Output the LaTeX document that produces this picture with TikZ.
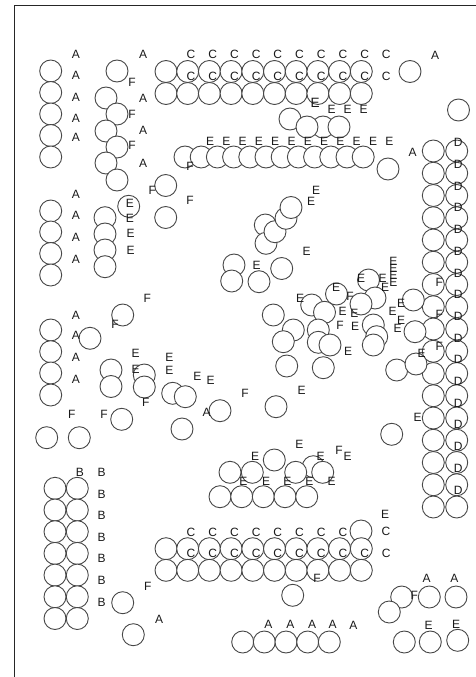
\documentclass[tikz,border=0pt]{standalone}
\usepackage{fontspec}
\setmainfont{Liberation Sans}
\begin{document}
\begin{tikzpicture}[x=1pt,y=-1pt,
  circ/.style={draw=black!72,line width=0.9pt,fill=white},
  lbl/.style={inner sep=0pt,font=\fontsize{12}{12}\selectfont,text=black!90}]
\useasboundingbox (0,0) rectangle (476,677);
\begin{scope}
\clip (0,0) rectangle (476,677);
\draw[line width=1pt,black!85] (14,680) -- (14,6) -- (480,6);
% ---------- circles ----------
\foreach \y in {71,92.5,114,135.5,157} \draw[circ] (50.7,\y) circle[radius=11];
\foreach \x/\y in {117/71,106/98,117/114,106/131,117/147,106/163,117/180} \draw[circ] (\x,\y) circle[radius=11];
\foreach \k in {0,...,9} {\draw[circ] (166+21.7*\k,71.5) circle[radius=11];}
\foreach \k in {0,...,9} {\draw[circ] (166+21.7*\k,93.5) circle[radius=11];}
\draw[circ] (410,71.5) circle[radius=11];
\draw[circ] (458.5,110) circle[radius=11];
\foreach \x/\y in {290/119,323/127,307/127,339/127} \draw[circ] (\x,\y) circle[radius=11];
\foreach \k in {0,...,11} {\draw[circ] (185+16.2*\k,157) circle[radius=11];}
\draw[circ] (388,169) circle[radius=11];
\foreach \k in {0,...,16} {\draw[circ] (433.3,151+22.25*\k) circle[radius=11];
  \draw[circ] (456.7,151+22.25*\k) circle[radius=11];}
\foreach \x/\y in {165.7/185.5,165.7/217.5,128.7/206.3} \draw[circ] (\x,\y) circle[radius=11];
\foreach \y in {211,232,253.5,275} \draw[circ] (50.7,\y) circle[radius=11];
\foreach \y in {217.7,234,250,266.7} \draw[circ] (105,\y) circle[radius=11];
\foreach \x/\y in {265.3/225,266/243.3,275/231.7,286/218.3,291/207.5} \draw[circ] (\x,\y) circle[radius=11];
\foreach \x/\y in {234/265,231.7/281,259/281.7,281.7/268.5} \draw[circ] (\x,\y) circle[radius=11];
% central cluster
\foreach \x/\y in {368.5/280,336.5/294,375/298,361/304,311.7/305,324.5/312.3,273.3/315,
  373.3/325,293.3/330,318.3/330,376.7/336.7,283.3/341.7,318.3/342.3,330/345,373.3/345,
  286.7/366,323.3/367.7,413.3/300,415/331.7,396.7/370,416/364}
  \draw[circ] (\x,\y) circle[radius=11];
\foreach \x/\y in {122.7/315,50.7/330,90/338.3} \draw[circ] (\x,\y) circle[radius=11];
\foreach \y in {351.7,373,395} \draw[circ] (50.7,\y) circle[radius=11];
\foreach \x/\y in {111/370,111/386.5,144.3/375,144.3/387,172.7/393.3,185.3/396.7,220/410.7,182/429,
  46.7/437.7,79.3/437.7,121.7/419.3,276/406.7,391.7/434.3} \draw[circ] (\x,\y) circle[radius=11];
% lower middle
\foreach \x/\y in {274.3/460,313.3/466.7,230/472.3,252.3/472.3,295.7/472.3,322.7/472.3,
  220/496.7,241.7/496.7,263.3/496.7,285/496.7,306.7/496.7} \draw[circ] (\x,\y) circle[radius=11];
% B block
\foreach \k in {0,...,6} {\draw[circ] (55,488.3+21.7*\k) circle[radius=11];
  \draw[circ] (77.3,488.3+21.7*\k) circle[radius=11];}
% lower C block
\draw[circ] (361,531) circle[radius=11];
\foreach \k in {0,...,9} {\draw[circ] (166+21.7*\k,548.7) circle[radius=11];}
\foreach \k in {0,...,9} {\draw[circ] (166+21.7*\k,570.3) circle[radius=11];}
\foreach \x/\y in {122.7/602.7,133.3/634.7,292.7/595.3,401.7/597,389.3/612,429.3/597,456/597,
  242.7/642,264.3/642,286/642,307.7/642,329.3/642,404.3/642,430.3/642,457.7/640.3}
  \draw[circ] (\x,\y) circle[radius=11];
% ---------- letters ----------
\foreach \x/\y [count=\i] in {76/54,76/75.5,76/97,76/118,76/137,143/54,143/98,143/130.5,143/163,
  435/55,412.7/152.7,76/194.3,76/215.7,76/237.7,76/259,76/315,76/335,76/357.3,76/379,206.7/412,
  159/619.3,426.7/578.7,454.3/578.7,268.3/624.7,290.3/624.7,312/624.7,332.7/624.7,353.3/625.3}
  \node[lbl] (a\i) at (\x,\y) {A};
\foreach \x/\y [count=\i] in {132/82,132/114,132/145,190/166.7,152.3/190.7,190/200.7,147.3/298.3,
  115/324.3,145.7/402.7,71.7/414,104/414,245/393.3,339/450.7,147.7/586,317/578,414.3/595.3,
  439.3/282.7,439.3/314.3,439.3/346.7,350/296,340/325}
  \node[lbl] (f\i) at (\x,\y) {F};
\node[lbl,font=\fontsize{13.5}{13.5}\selectfont] (e0) at (315,103) {E};
\foreach \x/\y [count=\i] in {331.7/109,347.7/109,363.7/109,
  130/203.3,130/218.3,130.7/233.3,130.7/250,316/190.7,311/201.7,306.5/251.7,256.5/265,300/298.3,
  336/287,361/278.3,382.7/278.3,385/287,393.3/261.7,393.3/268.5,393.3/275,393.3/282,
  342.7/311.7,354.3/313,355/326.7,348/351.7,392.7/311.7,401/303.3,401/320,397.7/328.3,
  421.7/353.3,417.7/417.7,135.7/353.3,135.7/369.3,169.3/357.3,169.3/370.7,197.3/376.7,210.7/380,
  301.7/390,299.3/444,255/456,320.7/456,347.7/456,
  243.3/481,266/481,287.3/481,309.3/481,331.7/481,385/514,428.7/625.3,456/624.7}
  \node[lbl] (e\i) at (\x,\y) {E};
\foreach \k in {0,...,11} {\node[lbl] (er\k) at (210+16.3*\k,141.7) {E};}
\foreach \k in {0,...,9} {\node[lbl] (ca\k) at (191+21.7*\k,54) {C};
  \node[lbl] (cb\k) at (191+21.7*\k,76) {C};
  \node[lbl] (cd\k) at (191+21.7*\k,553) {C};}
\foreach \k in {0,...,7} {\node[lbl] (cc\k) at (191+21.7*\k,532) {C};}
\node[lbl] (cc8) at (386,531.3) {C};
\node[lbl] (b0) at (80,472.3) {B};
\foreach \k in {0,...,6} {\node[lbl] (b\k x) at (101.7,472.3+21.6*\k) {B};}
\foreach \k in {0,...,16} {\node[lbl] (d\k) at (458.3,142.7+21.7*\k) {D};
  \node[lbl] (dd\k) at (480,142.7+21.7*\k) {D};}
\end{scope}
\end{tikzpicture}
\end{document}
